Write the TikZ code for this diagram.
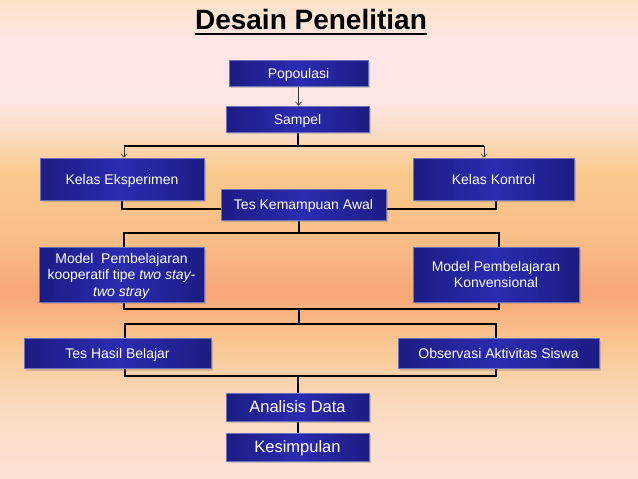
\documentclass[tikz,border=0pt]{standalone}
\usepackage{fontspec}
\setmainfont{Liberation Sans}
\usetikzlibrary{arrows.meta,shadows,calc}
\definecolor{bgA}{HTML}{FBE3C8}
\definecolor{bgB}{HTML}{FDE6E4}
\definecolor{bgC}{HTML}{FDE6E6}
\definecolor{bgD}{HTML}{FBDCC2}
\definecolor{bgE}{HTML}{F9C98C}
\definecolor{bgF}{HTML}{F9BE88}
\definecolor{bgG}{HTML}{F8A676}
\definecolor{bgH}{HTML}{F9C690}
\definecolor{bgI}{HTML}{FBDBBE}
\definecolor{bgJ}{HTML}{FCE1D8}
\definecolor{boxEdge}{HTML}{1C1C84}
\definecolor{boxMid}{HTML}{2B2BB0}
\definecolor{boxLine}{HTML}{7070B8}
\pgfdeclarelayer{back}
\pgfdeclarelayer{mid}
\pgfsetlayers{back,mid,main}
\tikzset{
  box/.style={draw=boxLine, line width=0.5pt, left color=boxEdge, right color=boxEdge, middle color=boxMid,
    text=white, font=\fontsize{14}{16.5}\selectfont, align=center, inner sep=1pt, text depth=0pt,
    drop shadow={shadow xshift=1.5pt, shadow yshift=-2pt, opacity=0.35}},
  conn/.style={line width=1.7pt, black},
  thinarr/.style={line width=0.6pt, black!80, -{Straight Barb[length=3.5pt,width=6pt]}},
}
\begin{document}
\begin{tikzpicture}[x=1pt,y=-1pt]
\useasboundingbox (0,0) rectangle (638,479);
\begin{pgfonlayer}{back}
\shade[top color=bgA, bottom color=bgB] (0,0) rectangle (638,40);
\shade[top color=bgB, bottom color=bgC] (0,40) rectangle (638,100);
\shade[top color=bgC, bottom color=bgD] (0,100) rectangle (638,135);
\shade[top color=bgD, bottom color=bgE] (0,135) rectangle (638,172);
\shade[top color=bgE, bottom color=bgF] (0,172) rectangle (638,240);
\shade[top color=bgF, bottom color=bgG] (0,240) rectangle (638,292);
\shade[top color=bgG, bottom color=bgH] (0,292) rectangle (638,342);
\shade[top color=bgH, bottom color=bgI] (0,342) rectangle (638,405);
\shade[top color=bgI, bottom color=bgJ] (0,405) rectangle (638,479);
\end{pgfonlayer}

\node[font=\fontsize{28}{32}\selectfont\bfseries, text=black, inner sep=0pt] (title) at (311,19) {Desain Penelitian};
\draw[line width=2.2pt, black] ([yshift=-4.8pt]title.base west) -- ([yshift=-4.8pt]title.base east);

\node[box, minimum width=139pt, minimum height=26pt] (pop) at (298.5,73) {Popoulasi};
\node[box, minimum width=143pt, minimum height=26pt] (samp) at (297.5,119) {Sampel};
\node[box, minimum width=164pt, minimum height=42pt] (ke) at (122,179) {Kelas Eksperimen};
\node[box, minimum width=161pt, minimum height=42pt] (kk) at (493.5,179) {Kelas Kontrol};
\node[box, minimum width=165pt, minimum height=31pt] (tka) at (303.5,204.5) {Tes Kemampuan Awal};
\node[box, minimum width=165pt, minimum height=55pt] (mk) at (121.5,274.5) {Model~ Pembelajaran\\kooperatif tipe \textit{two stay-}\\\textit{two stray}};
\node[box, minimum width=166pt, minimum height=55pt] (mkv) at (496,274.5) {Model Pembelajaran\\Konvensional};
\node[box, minimum width=187pt, minimum height=30pt] (thb) at (117.5,353.5) {Tes Hasil Belajar};
\node[box, minimum width=201pt, minimum height=30pt] (oas) at (498.5,353.5) {Observasi Aktivitas Siswa};
\node[box, minimum width=143pt, minimum height=28pt, font=\fontsize{16.5}{19}\selectfont] (ad) at (297.5,407) {Analisis Data};
\node[box, minimum width=143pt, minimum height=28pt, font=\fontsize{16.5}{19}\selectfont] (kes) at (297.5,447) {Kesimpulan};

\begin{pgfonlayer}{mid}
\draw[thinarr] (pop.south) -- (pop.south |- samp.north);
\coordinate (s1) at (298,146);
\coordinate (sl) at (124,146);
\coordinate (sr) at (484,146);
\draw[conn] (samp.south -| s1) -- (s1);
\draw[conn] (sl) -- (sr);
\draw[thinarr] (sl) -- (sl |- ke.north);
\draw[thinarr] (sr) -- (sr |- kk.north);
\draw[conn] (ke.south) |- ($(tka.west)+(0,4.5)$);
\draw[conn] ([xshift=2.5pt]kk.south) |- ($(tka.east)+(0,4.5)$);
\coordinate (j2c) at (299,233);
\coordinate (j2l) at (124,233);
\coordinate (j2r) at (499,233);
\draw[conn] (tka.south -| j2c) -- (j2c);
\draw[conn] (j2l |- mk.north) -- (j2l) -- (j2r) -- (j2r |- mkv.north);
\coordinate (j3c) at (299,309);
\coordinate (j3l) at (124,309);
\coordinate (j3r) at (499,309);
\coordinate (j4c) at (299,324);
\coordinate (j4l) at (125,324);
\coordinate (j4r) at (496,324);
\draw[conn] (j3l |- mk.south) -- (j3l) -- (j3r) -- (j3r |- mkv.south);
\draw[conn] (j3c) -- (j4c);
\draw[conn] (j4l |- thb.north) -- (j4l) -- (j4r) -- (j4r |- oas.north);
\coordinate (j5c) at (298,376);
\coordinate (j5l) at (125,376);
\coordinate (j5r) at (496,376);
\draw[conn] (j5l |- thb.south) -- (j5l) -- (j5r) -- (j5r |- oas.south);
\draw[conn] (j5c) -- (j5c |- ad.north);
\draw[conn] (j5c |- ad.south) -- (j5c |- kes.north);
\end{pgfonlayer}
\end{tikzpicture}
\end{document}
